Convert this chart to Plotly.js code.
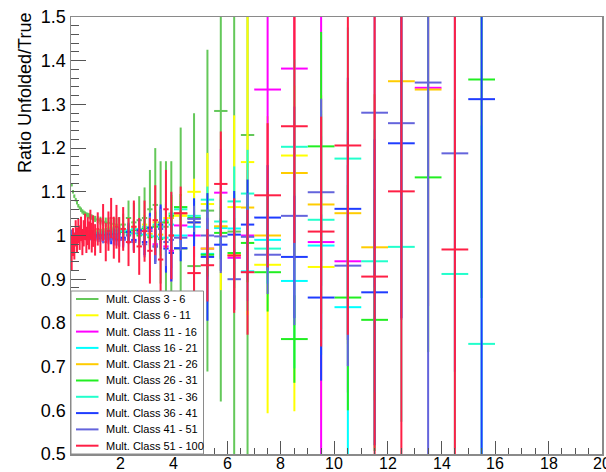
<!DOCTYPE html>
<html><head><meta charset="utf-8">
<script src="https://cdn.plot.ly/plotly-3.0.1.min.js"></script>
<style>html,body{margin:0;padding:0;background:#fff;}#plot{width:606px;height:472px;}</style>
</head><body><div id="plot"></div>
<script>
// bin edges (pT)
const binEdges = [0.15,0.2,0.25,0.3,0.35,0.4,0.45,0.5,0.55,0.6,0.65,0.7,0.75,0.8,0.85,0.9,0.95,1.0,
  1.1,1.2,1.3,1.4,1.5,1.6,1.7,1.8,1.9,2.0,
  2.2,2.4,2.6,2.8,3.0,3.2,3.4,3.6,3.8,4.0,
  4.5,5.0,5.5,6.0,6.5,7.0,
  8,9,10,11,12,13,14,15,16];
const xTickValues = [2,4,6,8,10,12,14,16,18,20];
const xTickLabels = ["2","4","6","8","10","12","14","16","18","20"];

const seriesNames = ["Mult. Class 3 - 6","Mult. Class 6 - 11","Mult. Class 11 - 16","Mult. Class 16 - 21",
  "Mult. Class 21 - 26","Mult. Class 26 - 31","Mult. Class 31 - 36","Mult. Class 36 - 41",
  "Mult. Class 41 - 51","Mult. Class 51 - 100"];
const seriesColors = ["#64c85a","#ffff00","#ff00ff","#00ffff","#ffcc00","#22ee22","#22ffcc","#1f3cff","#6464dc","#ff1f45"];

const val_3_6 = [1.116,1.100,1.090,1.082,1.075,1.068,1.063,1.059,1.055,1.052,1.050,1.048,1.046,1.045,1.043,1.042,1.040,
  1.038,1.036,1.034,1.032,1.030,1.029,1.027,1.026,1.025,1.024,
  1.025,1.040,1.030,1.035,1.040,1.060,1.070,1.030,1.020,1.000,
  0.970,0.930,1.057,1.285,1.009,1.230,
  null,null,null,null,null,null,null,null,null];
const err_3_6 = [0.004,0.004,0.004,0.004,0.004,0.004,0.004,0.005,0.005,0.005,0.005,0.005,0.006,0.006,0.006,0.006,0.006,
  0.007,0.008,0.009,0.010,0.011,0.012,0.013,0.014,0.016,0.018,
  0.025,0.040,0.045,0.055,0.070,0.090,0.130,0.140,0.150,0.170,
  0.277,0.350,0.368,0.665,0.600,0.800,
  null,null,null,null,null,null,null,null,null];

const val_6_11 = [0.975,0.985,0.992,0.996,0.998,1.000,1.002,1.003,1.004,1.005,1.004,1.006,1.005,1.007,1.006,1.008,1.007,
  1.008,1.010,1.009,1.012,1.010,1.013,1.011,1.015,1.012,1.016,
  1.015,1.010,1.020,1.012,1.025,1.018,1.030,1.022,1.040,1.050,
  1.045,1.100,1.072,1.020,1.065,1.168,
  0.933,1.183,0.928,null,null,null,null,null,null];
const err_6_11 = [0.006,0.005,0.005,0.004,0.004,0.004,0.004,0.004,0.004,0.004,0.004,0.005,0.005,0.005,0.005,0.005,0.005,
  0.006,0.006,0.007,0.007,0.008,0.008,0.009,0.010,0.011,0.012,
  0.015,0.017,0.019,0.021,0.024,0.027,0.030,0.034,0.038,0.042,
  0.050,0.030,0.117,0.145,0.210,0.350,
  0.340,0.585,0.350,null,null,null,null,null,null];

const val_11_16 = [0.985,0.990,0.994,0.997,0.999,1.000,0.998,1.001,0.999,1.002,1.000,1.001,0.999,1.003,1.000,1.002,0.998,
  1.001,0.997,1.003,0.996,1.004,0.995,1.005,0.993,1.004,0.990,
  0.992,1.005,0.988,1.010,0.985,1.015,0.980,1.020,0.975,0.965,
  1.023,1.000,0.970,1.098,0.949,1.000,
  1.334,1.382,0.985,0.941,null,null,1.338,null,null];
const err_11_16 = [0.006,0.005,0.005,0.005,0.005,0.005,0.005,0.005,0.005,0.005,0.005,0.006,0.006,0.006,0.006,0.006,0.007,
  0.008,0.008,0.009,0.010,0.010,0.011,0.012,0.013,0.014,0.015,
  0.018,0.020,0.023,0.026,0.030,0.034,0.040,0.046,0.055,0.070,
  0.040,0.050,0.070,0.100,0.120,0.150,
  0.350,0.400,0.600,0.300,null,null,0.500,null,null];

const val_16_21 = [0.962,0.978,0.988,0.993,0.996,0.998,1.000,1.001,1.000,1.002,1.001,1.003,1.002,1.003,1.001,1.004,1.002,
  1.003,1.005,1.002,1.006,1.003,1.007,1.001,1.008,1.004,1.009,
  1.008,1.012,1.005,1.015,1.002,1.018,0.998,1.020,0.995,1.025,
  1.000,1.020,0.958,1.017,1.016,0.918,
  0.990,0.896,0.977,0.836,null,null,null,null,null];
const err_16_21 = [0.007,0.006,0.005,0.005,0.005,0.005,0.005,0.005,0.005,0.005,0.005,0.006,0.006,0.006,0.006,0.006,0.007,
  0.008,0.008,0.009,0.010,0.010,0.011,0.012,0.013,0.014,0.015,
  0.017,0.019,0.021,0.024,0.027,0.030,0.034,0.038,0.043,0.048,
  0.030,0.040,0.060,0.070,0.080,0.090,
  0.100,0.200,0.250,0.400,null,null,null,null,null];

const val_21_26 = [0.980,0.988,0.993,0.997,0.999,1.001,1.002,1.002,1.003,1.003,1.004,1.003,1.005,1.004,1.005,1.006,1.005,
  1.006,1.007,1.005,1.008,1.006,1.009,1.007,1.010,1.008,1.011,
  1.010,1.008,1.014,1.006,1.018,1.004,1.022,1.002,1.030,1.040,
  1.050,1.030,0.970,1.021,0.955,1.064,
  1.000,1.143,1.071,1.051,0.973,1.353,1.334,null,null];
const err_21_26 = [0.006,0.005,0.005,0.005,0.005,0.005,0.005,0.005,0.005,0.005,0.005,0.006,0.006,0.006,0.006,0.006,0.007,
  0.008,0.008,0.009,0.010,0.010,0.011,0.012,0.013,0.014,0.015,
  0.017,0.019,0.021,0.024,0.027,0.030,0.034,0.038,0.043,0.048,
  0.030,0.040,0.060,0.070,0.080,0.100,
  0.100,0.200,0.250,0.300,0.350,0.500,0.600,null,null];

const val_26_31 = [0.990,0.994,0.997,0.999,1.000,1.001,1.001,1.002,1.002,1.003,1.002,1.003,1.003,1.004,1.003,1.004,1.004,
  1.005,1.004,1.006,1.005,1.007,1.006,1.008,1.006,1.009,1.007,
  1.008,1.004,1.012,1.000,1.016,0.996,1.020,0.992,1.030,1.045,
  1.065,1.040,0.956,1.006,0.960,0.983,
  0.916,0.763,1.204,0.858,0.807,null,1.133,null,1.357];
const err_26_31 = [0.006,0.005,0.005,0.005,0.005,0.005,0.005,0.005,0.005,0.005,0.005,0.006,0.006,0.006,0.006,0.006,0.007,
  0.008,0.008,0.009,0.010,0.010,0.011,0.012,0.013,0.014,0.015,
  0.017,0.019,0.021,0.024,0.027,0.030,0.034,0.038,0.043,0.048,
  0.030,0.040,0.050,0.060,0.080,0.090,
  0.090,0.100,0.262,0.258,0.300,null,0.400,null,0.500];

const val_31_36 = [0.972,0.983,0.991,0.995,0.998,1.000,1.001,1.002,1.001,1.003,1.002,1.003,1.004,1.003,1.004,1.005,1.004,
  1.005,1.006,1.005,1.007,1.006,1.008,1.006,1.009,1.007,1.010,
  1.010,1.006,1.015,1.003,1.020,1.000,1.025,0.995,1.035,1.050,
  1.060,1.045,1.082,1.032,1.078,1.096,
  0.970,1.203,1.036,1.176,0.941,0.974,null,0.912,0.752];
const err_31_36 = [0.006,0.005,0.005,0.005,0.005,0.005,0.005,0.005,0.005,0.005,0.005,0.006,0.006,0.006,0.006,0.006,0.007,
  0.008,0.008,0.009,0.010,0.010,0.011,0.012,0.013,0.014,0.015,
  0.017,0.019,0.021,0.024,0.027,0.030,0.034,0.038,0.043,0.048,
  0.030,0.040,0.030,0.070,0.080,0.100,
  0.080,0.200,0.250,0.300,0.300,0.400,null,0.400,0.500];

const val_36_41 = [1.005,1.002,1.000,0.999,0.998,0.998,0.999,0.997,0.999,0.998,1.000,0.997,0.999,0.996,1.000,0.995,0.999,
  0.996,1.000,0.994,1.001,0.993,1.002,0.992,1.003,0.991,1.004,
  0.995,1.008,0.990,1.012,0.985,1.018,0.975,1.025,0.970,0.960,
  0.971,1.030,0.951,0.979,1.002,1.025,
  1.041,0.951,0.858,1.061,0.870,1.211,null,null,1.312];
const err_36_41 = [0.006,0.005,0.005,0.005,0.005,0.005,0.005,0.005,0.005,0.005,0.005,0.006,0.006,0.006,0.006,0.006,0.007,
  0.008,0.008,0.009,0.010,0.010,0.011,0.012,0.013,0.014,0.015,
  0.018,0.020,0.023,0.026,0.030,0.034,0.040,0.046,0.055,0.065,
  0.030,0.055,0.146,0.060,0.100,0.103,
  0.120,0.140,0.190,0.300,0.350,0.400,null,null,0.900];

const val_41_51 = [1.008,1.004,1.002,1.000,0.999,0.998,0.997,0.998,0.996,0.998,0.995,0.997,0.996,0.998,0.995,0.997,0.994,
  0.996,0.993,0.997,0.992,0.998,0.991,0.999,0.990,1.000,0.989,
  0.990,1.000,0.985,1.005,0.980,1.010,0.975,1.015,0.985,0.990,
  0.995,1.038,1.000,0.998,0.900,0.997,
  0.956,1.045,1.099,0.931,1.281,1.257,1.350,1.188,null];
const err_41_51 = [0.006,0.005,0.005,0.005,0.005,0.005,0.005,0.005,0.005,0.005,0.005,0.006,0.006,0.006,0.006,0.006,0.007,
  0.008,0.008,0.009,0.010,0.010,0.011,0.012,0.013,0.014,0.015,
  0.018,0.020,0.023,0.026,0.030,0.034,0.040,0.046,0.055,0.065,
  0.030,0.030,0.060,0.084,0.070,0.100,
  0.090,0.250,0.214,0.230,0.400,0.450,0.900,0.500,null];

const val_51_100 = [0.960,0.985,0.975,1.005,0.990,1.010,0.995,1.015,0.985,1.005,1.020,0.990,1.010,1.000,1.025,0.995,1.010,
  0.990,1.015,1.000,1.030,0.985,1.010,1.040,0.995,1.020,0.990,
  1.015,0.985,1.020,0.975,1.010,0.965,1.035,0.945,1.060,1.000,
  1.051,0.914,0.932,1.118,0.954,0.916,
  1.092,1.250,1.009,1.206,0.906,1.101,null,0.968,null];
const err_51_100 = [0.040,0.032,0.030,0.030,0.028,0.028,0.028,0.028,0.030,0.030,0.030,0.030,0.032,0.032,0.034,0.034,0.036,
  0.036,0.038,0.040,0.042,0.044,0.045,0.046,0.048,0.050,0.052,
  0.050,0.055,0.060,0.065,0.070,0.075,0.080,0.085,0.090,0.100,
  0.061,0.061,0.083,0.120,0.131,0.143,
  0.165,0.267,0.263,0.433,0.800,0.800,null,0.800,null];

const allVals = [val_3_6,val_6_11,val_11_16,val_16_21,val_21_26,val_26_31,val_31_36,val_36_41,val_41_51,val_51_100];
const allErrs = [err_3_6,err_6_11,err_11_16,err_16_21,err_21_26,err_26_31,err_31_36,err_36_41,err_41_51,err_51_100];

const centers = [], halfW = [];
for (let i = 0; i < binEdges.length - 1; i++) {
  centers.push((binEdges[i] + binEdges[i+1]) / 2);
  halfW.push((binEdges[i+1] - binEdges[i]) / 2);
}

const traces = allVals.map((v, k) => ({
  type: 'scatter', mode: 'markers', x: centers, y: v,
  marker: {size: 1, opacity: 0, color: seriesColors[k]},
  error_y: {type: 'data', array: allErrs[k], visible: true, color: seriesColors[k], thickness: 2, width: 0},
  error_x: {type: 'data', array: halfW, visible: true, color: seriesColors[k], thickness: 2, width: 0},
  showlegend: false, hoverinfo: 'skip'
}));

const FONT = 'Liberation Sans, Arial, sans-serif';
const plotL = 71, plotT = 17, plotW = 531, plotH = 437;
const px2x = p => (p - plotL) / plotW;
const py2y = p => (plotT + plotH - p) / plotH;

// custom ROOT-style legend box
const shapes = [{type: 'rect', xref: 'paper', yref: 'paper', x0: 0, x1: px2x(203.5), y0: 0, y1: py2y(291),
  fillcolor: '#ffffff', line: {color: '#8a8a8a', width: 1}, layer: 'above'}];
const annotations = [{xref: 'paper', yref: 'paper', x: px2x(25), y: py2y(11), xanchor: 'center', yanchor: 'top',
  text: 'Ratio Unfolded/True', textangle: -90, showarrow: false,
  font: {family: FONT, size: 18, color: '#000'}}];
seriesNames.forEach((nm, k) => {
  const yy = 299 + k * 16.3;
  shapes.push({type: 'line', xref: 'paper', yref: 'paper', x0: px2x(76), x1: px2x(98.5), y0: py2y(yy), y1: py2y(yy),
    line: {color: seriesColors[k], width: 2}, layer: 'above'});
  annotations.push({xref: 'paper', yref: 'paper', x: px2x(104), y: py2y(yy), xanchor: 'left', yanchor: 'middle',
    text: nm, showarrow: false, font: {family: FONT, size: 11, color: '#000'}});
});
// x tick labels (placed close under the axis as in the reference)
xTickValues.forEach((v, k) => {
  annotations.push({xref: 'x', yref: 'paper', x: v, y: py2y(463), xanchor: 'center', yanchor: 'middle',
    text: xTickLabels[k], showarrow: false, borderpad: 0,
    font: {family: FONT, size: 16, color: '#000'}});
});

const layout = {
  width: 606, height: 472,
  margin: {l: plotL, r: 606 - plotL - plotW, t: plotT, b: 472 - plotT - plotH, pad: 0},
  paper_bgcolor: '#fff', plot_bgcolor: '#fff',
  font: {family: FONT, color: '#000'},
  showlegend: false,
  xaxis: {range: [0.15, 20], tick0: 0, dtick: 2, ticks: 'inside', ticklen: 13, tickcolor: '#555', tickwidth: 1,
    showticklabels: false,
    showline: true, linecolor: '#8a8a8a', linewidth: 1.5, mirror: true, showgrid: false, zeroline: false,
    minor: {dtick: 0.5, ticks: 'inside', ticklen: 6, tickcolor: '#555', showgrid: false}},
  yaxis: {range: [0.5, 1.5], tick0: 0.5, dtick: 0.1, ticks: 'inside', ticklen: 15, tickcolor: '#555', tickwidth: 1,
    showline: true, linecolor: '#8a8a8a', linewidth: 1.5, mirror: true, showgrid: false, zeroline: false,
    tickfont: {size: 18}, minor: {dtick: 0.02, ticks: 'inside', ticklen: 8, tickcolor: '#555', showgrid: false}},
  shapes: shapes, annotations: annotations
};
Plotly.newPlot('plot', traces, layout, {staticPlot: true, displayModeBar: false});
</script></body></html>
